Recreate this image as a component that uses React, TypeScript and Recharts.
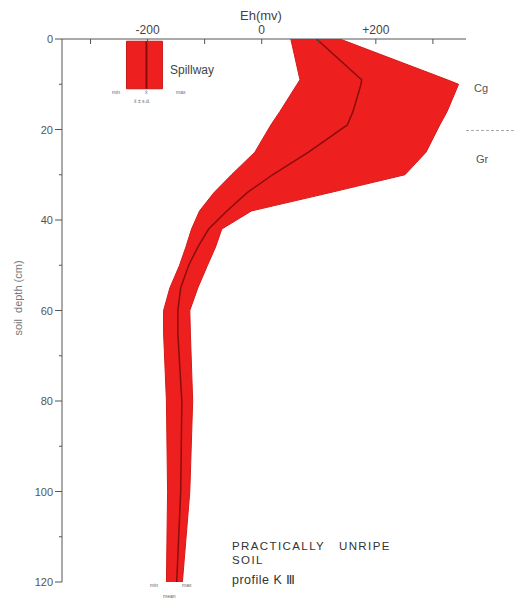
import {
  Area,
  ComposedChart,
  Line,
  ReferenceArea,
  ReferenceLine,
  XAxis,
  YAxis,
} from "recharts";

// soil depth (cm) and Eh readings (mV) taken off the profile
const depths = [0, 9, 10, 16, 19, 25, 30, 34, 38, 42, 46, 50, 55, 60, 65, 80, 100, 120];
const ehMin = [51, 67, 62, 32, 16, -12, -53, -84, -109, -123, -133, -144, -161, -172, -172, -167, -165, -167];
const ehMax = [137, 325, 345, 325, 312, 288, 251, 118, -18, -70, -81, -95, -112, -126, -125, -121, -126, -139];
const ehMean = [96, 175, 174, 160, 150, 82, 19, -26, -61, -93, -112, -128, -142, -147, -147, -140, -142, -149];

// spillway inset (legend-like box)
const spillwayMin = -237;
const spillwayMean = -202;
const spillwayMax = -174;
const spillwayDepth = [0.5, 11];

const xTicks = [-300, -200, -100, 0, 100, 200, 300];
const xTickLabels: Record<number, string> = { [-200]: "-200", 0: "0", 200: "+200" };
const yTicks = [0, 10, 20, 30, 40, 50, 60, 70, 80, 90, 100, 110, 120];

const data = depths.map((depth, i) => ({
  depth,
  range: [ehMin[i], ehMax[i]],
  mean: ehMean[i],
}));

const FONT = "'Liberation Sans', Arial, sans-serif";
const AXIS = "#555";
const RED = "#ee1f1f";

function renderXTick(props: any) {
  const { x, y, payload } = props;
  const label = xTickLabels[payload.value];
  return (
    <g>
      <line x1={x} y1={y} x2={x} y2={y + 5} stroke={AXIS} />
      {label ? (
        <text x={x} y={y - 5} textAnchor="middle" fontSize={12} fill="#444" fontFamily={FONT}>
          {label}
        </text>
      ) : null}
    </g>
  );
}

function renderYTick(props: any) {
  const { x, y, payload } = props;
  const major = payload.value % 20 === 0;
  return (
    <g>
      <line x1={x - (major ? 7 : 3)} y1={y} x2={x} y2={y} stroke={AXIS} />
      {major ? (
        <text x={x - 9} y={y + 4} textAnchor="end" fontSize={11} fill="#555" fontFamily={FONT}>
          {payload.value}
        </text>
      ) : null}
    </g>
  );
}

const textStyle: React.CSSProperties = {
  position: "absolute",
  fontFamily: FONT,
  color: "#333",
  whiteSpace: "nowrap",
  lineHeight: 1,
};

export default function App() {
  return (
    <div style={{ position: "absolute", left: 0, top: 0, width: 514, height: 602, background: "white" }}>
      <ComposedChart
        width={514}
        height={602}
        layout="vertical"
        data={data}
        margin={{ top: 0, right: 48, bottom: 20, left: 0 }}
      >
        <XAxis
          type="number"
          orientation="top"
          domain={[-350, 358]}
          ticks={xTicks}
          height={39}
          tickSize={0}
          tickMargin={0}
          tick={renderXTick}
          stroke={AXIS}
          allowDataOverflow
        />
        <YAxis
          type="number"
          dataKey="depth"
          domain={[0, 120]}
          ticks={yTicks}
          width={62}
          tickSize={0}
          tickMargin={0}
          tick={renderYTick}
          stroke={AXIS}
          allowDataOverflow
        />
        <ReferenceArea
          x1={spillwayMin}
          x2={spillwayMax}
          y1={spillwayDepth[0]}
          y2={spillwayDepth[1]}
          fill={RED}
          fillOpacity={1}
          stroke="#c81818"
        />
        <ReferenceLine
          segment={[
            { x: spillwayMean, y: spillwayDepth[0] },
            { x: spillwayMean, y: spillwayDepth[1] },
          ]}
          stroke="#8a0d0d"
          strokeWidth={2}
        />
        <Area
          type="linear"
          dataKey="range"
          fill={RED}
          fillOpacity={1}
          stroke="#d41a1a"
          strokeWidth={1}
          isAnimationActive={false}
        />
        <Line
          type="linear"
          dataKey="mean"
          stroke="#8a0d0d"
          strokeWidth={1.5}
          dot={false}
          isAnimationActive={false}
        />
      </ComposedChart>

      <div style={{ ...textStyle, left: 240, top: 9, fontSize: 13, color: "#444" }}>Eh(mv)</div>
      <div
        style={{
          ...textStyle,
          left: 18,
          top: 298,
          fontSize: 11,
          color: "#777",
          transform: "translate(-50%, -50%) rotate(-90deg)",
        }}
      >
        soil &nbsp;depth (cm)
      </div>

      <div style={{ ...textStyle, left: 170, top: 64, fontSize: 12, color: "#444" }}>Spillway</div>
      <div style={{ ...textStyle, left: 112, top: 90, fontSize: 5, color: "#666" }}>min</div>
      <div style={{ ...textStyle, left: 145, top: 90, fontSize: 5, color: "#666" }}>x̄</div>
      <div style={{ ...textStyle, left: 176, top: 90, fontSize: 5, color: "#666" }}>max</div>
      <div style={{ ...textStyle, left: 134, top: 99, fontSize: 5, color: "#666" }}>x̄ ± s.d.</div>

      <div style={{ ...textStyle, left: 474, top: 83, fontSize: 11, color: "#555" }}>Cg</div>
      <div style={{ position: "absolute", left: 466, top: 130, width: 48, borderTop: "1px dashed #aaa" }} />
      <div style={{ ...textStyle, left: 476, top: 154, fontSize: 11, color: "#555" }}>Gr</div>

      <div style={{ ...textStyle, left: 150, top: 583, fontSize: 5, color: "#666" }}>min</div>
      <div style={{ ...textStyle, left: 182, top: 583, fontSize: 5, color: "#666" }}>max</div>
      <div style={{ ...textStyle, left: 163, top: 594, fontSize: 5, color: "#666" }}>mean</div>

      <div style={{ ...textStyle, left: 232, top: 541, fontSize: 11.5, letterSpacing: 1.4 }}>
        PRACTICALLY&nbsp;&nbsp;&nbsp;UNRIPE
      </div>
      <div style={{ ...textStyle, left: 232, top: 555, fontSize: 11.5, letterSpacing: 1.4 }}>SOIL</div>
      <div style={{ ...textStyle, left: 232, top: 574, fontSize: 12.5, letterSpacing: 0.5 }}>
        profile K Ⅲ
      </div>
    </div>
  );
}
